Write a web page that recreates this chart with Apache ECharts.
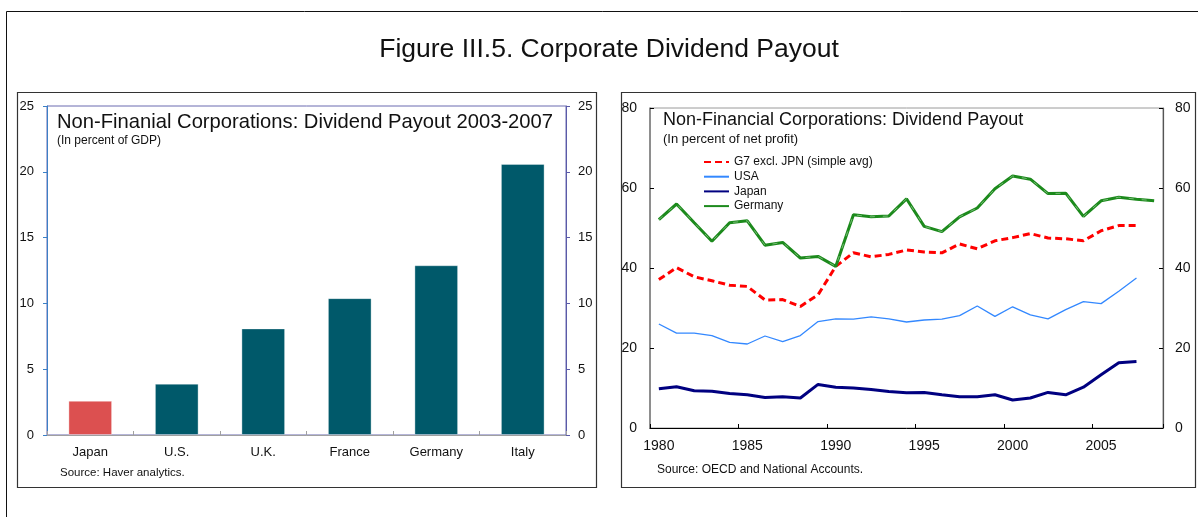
<!DOCTYPE html>
<html>
<head>
<meta charset="utf-8">
<script src="https://cdn.jsdelivr.net/npm/echarts@6/dist/echarts.min.js"></script>
<style>
html,body{margin:0;padding:0;background:#fff;}
#chart{width:1198px;height:517px;}
</style>
</head>
<body>
<div id="chart"></div>
<script>
// ---- Left panel data (percent of GDP, 2003-2007) ----
const barCategories = ['Japan', 'U.S.', 'U.K.', 'France', 'Germany', 'Italy'];
const barValues = [2.6, 3.9, 8.1, 10.4, 12.9, 20.6];
const barTicks = [0, 5, 10, 15, 20, 25];

// ---- Right panel data (percent of net profit) ----
const years = ['1980','1981','1982','1983','1984','1985','1986','1987','1988','1989',
  '1990','1991','1992','1993','1994','1995','1996','1997','1998','1999',
  '2000','2001','2002','2003','2004','2005','2006','2007','2008'];
const g7 = [37.1,40.1,37.8,36.8,35.7,35.4,32.0,32.1,30.4,33.3,40.4,43.8,42.8,43.4,44.5,44.0,43.8,46.0,44.8,46.8,47.6,48.6,47.5,47.3,46.8,49.3,50.6,50.6];
const usa = [26.0,23.7,23.7,23.1,21.4,21.0,23.0,21.6,23.1,26.6,27.3,27.2,27.8,27.3,26.5,27.0,27.2,28.1,30.5,27.9,30.3,28.3,27.3,29.6,31.6,31.1,34.2,37.5];
const japan = [9.8,10.3,9.3,9.2,8.6,8.3,7.6,7.8,7.5,10.9,10.2,10.0,9.6,9.1,8.8,8.9,8.3,7.8,7.8,8.3,7.0,7.5,8.9,8.3,10.2,13.3,16.3,16.6];
const germany = [52.1,56.0,51.3,46.7,51.3,51.8,45.7,46.4,42.5,42.9,40.4,53.3,52.8,53.0,57.3,50.4,49.1,52.8,55.0,59.8,63.0,62.2,58.6,58.7,52.9,56.8,57.7,57.2,56.8];
const lineTicks = [0, 20, 40, 60, 80];

const FONT = '"Liberation Sans", Arial, sans-serif';
const chart = echarts.init(document.getElementById('chart'));

function txt(text, x, y, size, align) {
  return { type: 'text', silent: true, z: 10,
    style: { text: text, x: x, y: y, font: size + 'px ' + FONT, fill: '#111',
      align: align || 'left', verticalAlign: 'middle' } };
}

const option = {
  animation: false,
  backgroundColor: '#fff',
  textStyle: { fontFamily: FONT },
  graphic: [
    { type: 'rect', silent: true, shape: { x: 6.5, y: 11.5, width: 1250, height: 600 },
      style: { fill: 'none', stroke: '#111', lineWidth: 1 } },
    { type: 'rect', silent: true, shape: { x: 17.5, y: 92.5, width: 579, height: 395 },
      style: { fill: 'none', stroke: '#333', lineWidth: 1.2 } },
    { type: 'rect', silent: true, shape: { x: 621.5, y: 92.5, width: 574, height: 395 },
      style: { fill: 'none', stroke: '#333', lineWidth: 1.2 } },
    txt('Figure III.5. Corporate Dividend Payout', 609, 50, 26.5, 'center'),
    txt('Non-Finanial Corporations: Dividend Payout 2003-2007', 57, 122, 20.2),
    txt('(In percent of GDP)', 57, 141, 12),
    txt('Source: Haver analytics.', 60, 473, 11.5),
    txt('Non-Financial Corporations: Dividend Payout', 663, 120, 18),
    txt('(In percent of net profit)', 663, 139, 13),
    txt('Source: OECD and National Accounts.', 657, 470, 12)
  ],
  legend: {
    orient: 'vertical', left: 703, top: 156, itemWidth: 25, itemHeight: 12, itemGap: 2.7,
    padding: 0, selectedMode: false,
    itemStyle: { opacity: 0 },
    textStyle: { fontSize: 12, color: '#111', lineHeight: 12, fontFamily: FONT },
    data: ['G7 excl. JPN (simple avg)', 'USA', 'Japan', 'Germany']
  },
  grid: [
    { left: 47, top: 106, width: 519, height: 329, show: true, borderColor: '#6a6ab0', borderWidth: 1 },
    { left: 650, top: 108, width: 513, height: 320, show: true, borderColor: '#9a9a9a', borderWidth: 1 }
  ],
  xAxis: [
    { gridIndex: 0, type: 'category', data: barCategories,
      axisLine: { lineStyle: { color: '#a0a0a0', width: 1 } },
      axisTick: { show: true, inside: true, length: 4, lineStyle: { color: '#a0a0a0' } },
      axisLabel: { fontSize: 13, color: '#111', margin: 11, fontFamily: FONT } },
    { gridIndex: 1, type: 'category', data: years, boundaryGap: true,
      axisLine: { lineStyle: { color: '#000', width: 1 } },
      axisTick: { show: true, inside: true, length: 4, interval: 4, lineStyle: { color: '#000' } },
      axisLabel: { interval: 4, fontSize: 14, color: '#111', margin: 11, fontFamily: FONT } }
  ],
  yAxis: [
    { gridIndex: 0, type: 'value', min: barTicks[0], max: barTicks[barTicks.length - 1], interval: 5,
      axisLine: { show: true, lineStyle: { color: '#3b80c6', width: 1 } },
      axisTick: { show: true, length: 4, lineStyle: { color: '#3b80c6' } },
      splitLine: { show: false },
      axisLabel: { fontSize: 13, color: '#111', margin: 13, fontFamily: FONT } },
    { gridIndex: 0, type: 'value', position: 'right', min: barTicks[0], max: barTicks[barTicks.length - 1], interval: 5,
      axisLine: { show: true, lineStyle: { color: '#5a5aa8', width: 1 } },
      axisTick: { show: true, length: 4, lineStyle: { color: '#5a5aa8' } },
      splitLine: { show: false },
      axisLabel: { fontSize: 13, color: '#111', margin: 12, fontFamily: FONT } },
    { gridIndex: 1, type: 'value', min: lineTicks[0], max: lineTicks[lineTicks.length - 1], interval: 20,
      axisLine: { show: true, lineStyle: { color: '#7a7a7a', width: 1.5 } },
      axisTick: { show: true, inside: true, length: 4, lineStyle: { color: '#000' } },
      splitLine: { show: false },
      axisLabel: { fontSize: 14, color: '#111', margin: 13, fontFamily: FONT } },
    { gridIndex: 1, type: 'value', position: 'right', min: lineTicks[0], max: lineTicks[lineTicks.length - 1], interval: 20,
      axisLine: { show: true, lineStyle: { color: '#555', width: 1.2 } },
      axisTick: { show: true, inside: true, length: 4, lineStyle: { color: '#000' } },
      splitLine: { show: false },
      axisLabel: { fontSize: 14, color: '#111', margin: 12, fontFamily: FONT } }
  ],
  series: [
    { type: 'bar', xAxisIndex: 0, yAxisIndex: 0, data: barValues, barWidth: '50.5%',
      itemStyle: { color: function (p) { return p.name === 'Japan' ? '#dc5050' : '#00596a'; },
        borderColor: 'rgba(255,255,255,0.35)', borderWidth: 1 } },
    { name: 'G7 excl. JPN (simple avg)', type: 'line', xAxisIndex: 1, yAxisIndex: 2, data: g7,
      symbol: 'none', lineStyle: { color: '#ff0000', width: 3, type: [7, 4] }, itemStyle: { color: '#ff0000' }, z: 4 },
    { name: 'USA', type: 'line', xAxisIndex: 1, yAxisIndex: 2, data: usa,
      symbol: 'none', lineStyle: { color: '#3388ff', width: 1.3 }, itemStyle: { color: '#3388ff' }, z: 3 },
    { name: 'Japan', type: 'line', xAxisIndex: 1, yAxisIndex: 2, data: japan,
      symbol: 'none', lineStyle: { color: '#000080', width: 3 }, itemStyle: { color: '#000080' }, z: 3 },
    { name: 'Germany', type: 'line', xAxisIndex: 1, yAxisIndex: 2, data: germany,
      symbol: 'none', lineStyle: { color: '#1c8a1c', width: 3 }, itemStyle: { color: '#1c8a1c' }, z: 5 },
    { name: 'Germany', type: 'line', xAxisIndex: 1, yAxisIndex: 2, data: germany, silent: true,
      symbol: 'none', lineStyle: { color: 'rgba(190,225,190,0.55)', width: 1, type: [5, 8] }, z: 6 }
  ]
};
chart.setOption(option);
</script>
</body>
</html>
